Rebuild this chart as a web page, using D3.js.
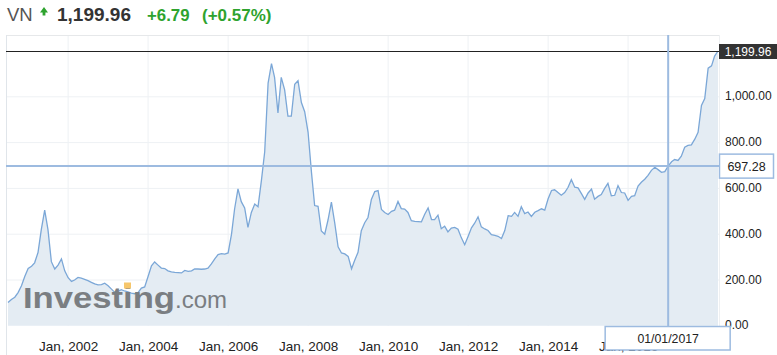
<!DOCTYPE html>
<html>
<head>
<meta charset="utf-8">
<script src="https://cdn.jsdelivr.net/npm/d3@7"></script>
<style>
  body { margin: 0; background: #fff; }
  svg { display: block; font-family: Arial, "Liberation Sans", sans-serif; }
</style>
</head>
<body>
<svg id="chart" width="777" height="355"></svg>
<script>
// monthly closes of the VN-Index, first value is July 2000
var startMonth = new Date(2000, 6, 1)
var values = [
  102, 115, 125, 145, 175, 215,
  250, 260, 275, 320, 420, 505, 420, 280, 248, 265, 292, 240,
  210, 194, 200, 211, 208, 203, 197, 190, 183, 179, 180, 186,
  175, 160, 147, 150, 158, 152, 148, 143, 140, 145, 165, 170,
  215, 262, 279, 265, 252, 250, 240, 235, 233, 232, 231, 242,
  238, 240, 248, 248, 247, 248, 252, 270, 292, 311, 315, 313,
  318, 400, 510, 598, 542, 515, 430, 495, 532, 520, 635, 760,
  1060, 1145, 1085, 930, 1085, 1030, 916, 916, 1055, 1070, 975, 935,
  845, 670, 525, 522, 414, 400, 462, 540, 447, 345, 318, 314,
  303, 249, 285, 321, 415, 450, 473, 552, 586, 590, 508, 495,
  486, 500, 505, 543, 512, 510, 495, 459, 456, 455, 454, 487,
  515, 464, 464, 483, 424, 435, 410, 427, 430, 422, 384, 354,
  390, 428, 448, 476, 432, 423, 416, 398, 395, 391, 381, 416,
  481, 478, 495, 478, 520, 490, 497, 478, 496, 503, 511, 505,
  555, 591, 594, 582, 570, 582, 604, 638, 605, 602, 577, 552,
  580, 597, 553, 565, 573, 600, 622, 568, 570, 612, 582, 580,
  548, 565, 568, 610, 627, 640, 657, 679, 692, 682, 670, 673,
  697.28, 716, 726, 722, 741, 780, 788, 790, 815, 845, 962, 992,
  1125, 1135, 1178, 1199.96
]
var yTicks = [0, 200, 400, 600, 800, 1000]
var xTickYears = [2002, 2004, 2006, 2008, 2010, 2012, 2014, 2016]

var symbol = 'VN',
    lastValue = 1199.96,
    change = '+6.79',
    changePct = '(+0.57%)'
var hoverDate = new Date(2017, 0, 1),
    hoverValue = 697.28

var data = values.map((v, i) => ({date: d3.timeMonth.offset(startMonth, i), value: v}))

var plot = {left: 6, right: 719, top: 35, bottom: 326}
var lineColor = '#7ba7d7',
    fillColor = '#e4ecf3',
    crossColor = '#9dbbe0',
    gridColor = '#eef1f4'

var x = d3.scaleTime()
  .domain(d3.extent(data, d => d.date))
  .range([8, 718])
var y = d3.scaleLinear()
  .domain([0, 1200])
  .range([325.8, 51])

var svg = d3.select('#chart')

// header
var head = svg.append('g')
head.append('text')
  .attr('x', 7).attr('y', 21)
  .attr('font-size', 18.5).attr('fill', '#555')
  .text(symbol)
head.append('path')
  .attr('d', 'M40,12.5 L44,7 L48,12.5 Z M42.6,12 h2.8 v3.5 h-2.8 Z')
  .attr('fill', '#2ea32e')
head.append('text')
  .attr('x', 57).attr('y', 21)
  .attr('font-size', 19).attr('font-weight', 'bold').attr('fill', '#333')
  .text(d3.format(',.2f')(lastValue))
head.append('text')
  .attr('x', 147).attr('y', 21)
  .attr('font-size', 16.8).attr('font-weight', 'bold').attr('fill', '#2ea32e')
  .text(change)
head.append('text')
  .attr('x', 202).attr('y', 21)
  .attr('font-size', 17).attr('font-weight', 'bold').attr('fill', '#2ea32e')
  .text(changePct)

// grid
var grid = svg.append('g')
grid.selectAll('.vgrid').data(xTickYears)
  .enter().append('line')
  .attr('class', 'vgrid')
  .attr('x1', d => x(new Date(d, 0, 1))).attr('x2', d => x(new Date(d, 0, 1)))
  .attr('y1', plot.top).attr('y2', plot.bottom)
  .attr('stroke', gridColor)
grid.selectAll('.hgrid').data(yTicks.slice(1))
  .enter().append('line')
  .attr('class', 'hgrid')
  .attr('x1', plot.left).attr('x2', plot.right)
  .attr('y1', d => y(d)).attr('y2', d => y(d))
  .attr('stroke', gridColor)

// frame
svg.append('line')
  .attr('x1', plot.left).attr('x2', plot.right)
  .attr('y1', plot.top + 0.5).attr('y2', plot.top + 0.5)
  .attr('stroke', '#e6e8ea')
svg.append('line')
  .attr('x1', plot.left + 0.5).attr('x2', plot.left + 0.5)
  .attr('y1', plot.top).attr('y2', 355)
  .attr('stroke', '#e0e5ea')
svg.append('line')
  .attr('x1', plot.right + 0.5).attr('x2', plot.right + 0.5)
  .attr('y1', plot.top).attr('y2', plot.bottom)
  .attr('stroke', '#eef0f2')

// series
var area = d3.area()
  .x(d => x(d.date))
  .y0(y(0))
  .y1(d => y(d.value))
var line = d3.line()
  .x(d => x(d.date))
  .y(d => y(d.value))

svg.append('path')
  .datum(data)
  .attr('d', area)
  .attr('fill', fillColor)
svg.append('path')
  .datum(data)
  .attr('d', line)
  .attr('fill', 'none')
  .attr('stroke', lineColor)
  .attr('stroke-width', 1.3)

// watermark
var wm = svg.append('g').attr('fill', '#7a7e82')
wm.append('text')
  .attr('x', 23).attr('y', 308)
  .attr('font-size', 29).attr('font-weight', 'bold')
  .attr('textLength', 152).attr('lengthAdjust', 'spacingAndGlyphs')
  .text('Investing')
wm.append('rect')
  .attr('x', 124).attr('y', 282.5).attr('width', 7).attr('height', 6)
  .attr('fill', '#f6c66b')
wm.append('text')
  .attr('x', 175).attr('y', 308)
  .attr('font-size', 24)
  .text('.com')

// axes
var yAxis = d3.axisRight(y)
  .tickValues(yTicks)
  .tickFormat(d3.format(',.2f'))
  .tickSize(0)
  .tickPadding(6)
var yAxisG = svg.append('g')
  .attr('transform', `translate(${plot.right},0)`)
  .call(yAxis)
yAxisG.select('.domain').remove()
yAxisG.selectAll('text')
  .attr('font-size', 12)
  .attr('fill', '#222')
  .attr('dy', '0.25em')

var xAxis = d3.axisBottom(x)
  .tickValues(xTickYears.map(d => new Date(d, 0, 1)))
  .tickFormat(d3.timeFormat('%b, %Y'))
  .tickSize(0)
  .tickPadding(15.5)
var xAxisG = svg.append('g')
  .attr('transform', `translate(0,${plot.bottom})`)
  .call(xAxis)
xAxisG.select('.domain').remove()
xAxisG.selectAll('text')
  .attr('font-size', 13.5)
  .attr('fill', '#222')

// last price line + label
var yLast = Math.round(y(lastValue)) + 0.5
svg.append('line')
  .attr('x1', plot.left).attr('x2', plot.right)
  .attr('y1', yLast).attr('y2', yLast)
  .attr('stroke', '#222')
svg.append('rect')
  .attr('x', plot.right).attr('y', yLast - 7.5)
  .attr('width', 58).attr('height', 15)
  .attr('fill', '#333')
svg.append('text')
  .attr('x', plot.right + 29).attr('y', yLast + 4.3)
  .attr('text-anchor', 'middle')
  .attr('font-size', 12).attr('fill', '#fff')
  .text(d3.format(',.2f')(lastValue))

// crosshair
svg.append('line')
  .attr('x1', plot.left).attr('x2', plot.right)
  .attr('y1', y(hoverValue)).attr('y2', y(hoverValue))
  .attr('stroke', crossColor).attr('stroke-width', 2)
svg.append('line')
  .attr('x1', x(hoverDate)).attr('x2', x(hoverDate))
  .attr('y1', plot.top).attr('y2', plot.bottom)
  .attr('stroke', crossColor).attr('stroke-width', 2)

svg.append('rect')
  .attr('x', plot.right + 0.5).attr('y', y(hoverValue) - 12)
  .attr('width', 54).attr('height', 24)
  .attr('fill', '#fff')
  .attr('stroke', crossColor).attr('stroke-width', 1.5)
svg.append('text')
  .attr('x', plot.right + 27.5).attr('y', y(hoverValue) + 4.5)
  .attr('text-anchor', 'middle')
  .attr('font-size', 12.5).attr('fill', '#222')
  .text(d3.format('.2f')(hoverValue))

// date tag covers the x labels underneath, as in the original
svg.append('rect')
  .attr('x', x(hoverDate) - 63).attr('y', plot.bottom + 0.5)
  .attr('width', 125).attr('height', 23.5)
  .attr('fill', '#fff')
  .attr('stroke', crossColor).attr('stroke-width', 1.5)
svg.append('text')
  .attr('x', x(hoverDate)).attr('y', 343)
  .attr('text-anchor', 'middle')
  .attr('font-size', 12.3).attr('fill', '#222')
  .text(d3.timeFormat('%m/%d/%Y')(hoverDate))
</script>
</body>
</html>
